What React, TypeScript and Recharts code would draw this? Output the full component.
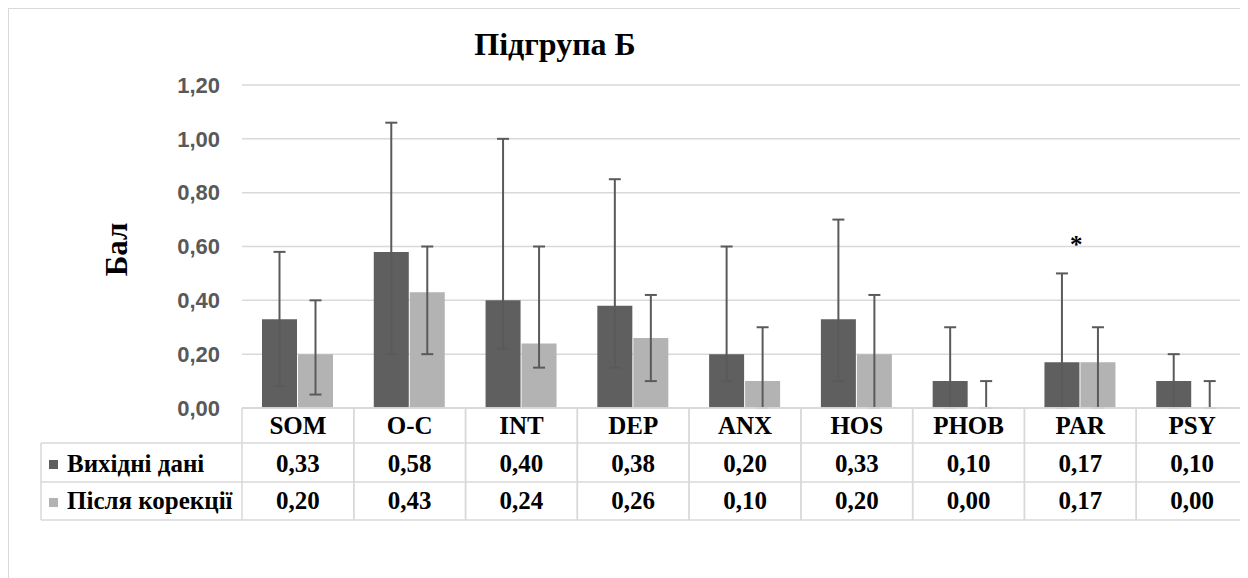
import React from "react";
import {
  BarChart,
  Bar,
  CartesianGrid,
  XAxis,
  YAxis,
  ErrorBar,
  ReferenceDot,
} from "recharts";

// SCL-90 scales, subgroup B
const categories = ["SOM", "O-C", "INT", "DEP", "ANX", "HOS", "PHOB", "PAR", "PSY"];
const seriesNames = ["Вихідні дані", "Після корекції"];

const baseline = [0.33, 0.58, 0.4, 0.38, 0.2, 0.33, 0.1, 0.17, 0.1];
const baselineHigh = [0.58, 1.06, 1.0, 0.85, 0.6, 0.7, 0.3, 0.5, 0.2];
const baselineLow = [0.08, 0.2, 0.22, 0.15, 0.1, 0.1, 0, 0, 0];

const corrected = [0.2, 0.43, 0.24, 0.26, 0.1, 0.2, 0, 0.17, 0];
const correctedHigh = [0.4, 0.6, 0.6, 0.42, 0.3, 0.42, 0.1, 0.3, 0.1];
const correctedLow = [0.05, 0.2, 0.15, 0.1, 0, 0, 0, 0, 0];

const yTicks = [0, 0.2, 0.4, 0.6, 0.8, 1.0, 1.2];

// significance mark
const starCategory = "PAR";
const starY = 0.62;

const DARK = "#5f5f5f";
const LIGHT = "#b3b3b3";
const WHISKER = "#5a5a5a";
const LINE = "#d9d9d9";
const SERIF = '"Liberation Serif", "Times New Roman", serif';
const SANS = '"Liberation Sans", Arial, sans-serif';

const W = 1240;
const H = 570;
const Y_AXIS_W = 234;
const MARGIN = { top: 77, right: 0, bottom: 50, left: 0 };
const BAND = (W - Y_AXIS_W - MARGIN.left - MARGIN.right) / categories.length;

// table rows, relative to the axis line
const ROW_HEAD = 35;
const ROW_1 = 74;
const ROW_2 = 112;
const TABLE_LEFT = 33;

const fmt = (v: number) => v.toFixed(2).replace(".", ",");

const data = categories.map((name, i) => ({
  name,
  base: baseline[i],
  corr: corrected[i],
  baseErr: [baseline[i] - baselineLow[i], baselineHigh[i] - baseline[i]],
  corrErr: [corrected[i] - correctedLow[i], correctedHigh[i] - corrected[i]],
}));

const TableColumn = (props: any) => {
  const { x, y, index } = props;
  const left = x - BAND / 2;
  const right = x + BAND / 2;
  const line = { stroke: LINE, strokeWidth: 1.5 };
  const txt = { fontFamily: SERIF, fontWeight: 700, fontSize: 25, fill: "#000", textAnchor: "middle" as const };
  return (
    <g>
      {index === 0 && (
        <g>
          <line x1={TABLE_LEFT} y1={y + ROW_HEAD} x2={left} y2={y + ROW_HEAD} {...line} />
          <line x1={TABLE_LEFT} y1={y + ROW_1} x2={left} y2={y + ROW_1} {...line} />
          <line x1={TABLE_LEFT} y1={y + ROW_2} x2={left} y2={y + ROW_2} {...line} />
          <line x1={TABLE_LEFT} y1={y + ROW_HEAD} x2={TABLE_LEFT} y2={y + ROW_2} {...line} />
          <rect x={41} y={y + 52} width={9} height={9} fill={DARK} />
          <rect x={41} y={y + 90} width={9} height={9} fill={LIGHT} />
          <text x={59} y={y + 64} {...txt} textAnchor="start">{seriesNames[0]}</text>
          <text x={59} y={y + 101} {...txt} textAnchor="start">{seriesNames[1]}</text>
        </g>
      )}
      <line x1={left} y1={y} x2={right} y2={y} {...line} />
      <line x1={left} y1={y + ROW_HEAD} x2={right} y2={y + ROW_HEAD} {...line} />
      <line x1={left} y1={y + ROW_1} x2={right} y2={y + ROW_1} {...line} />
      <line x1={left} y1={y + ROW_2} x2={right} y2={y + ROW_2} {...line} />
      <line x1={left} y1={y} x2={left} y2={y + ROW_2} {...line} />
      <line x1={right} y1={y} x2={right} y2={y + ROW_2} {...line} />
      <text x={x} y={y + 26} {...txt}>{categories[index]}</text>
      <text x={x} y={y + 64} {...txt}>{fmt(baseline[index])}</text>
      <text x={x} y={y + 101} {...txt}>{fmt(corrected[index])}</text>
    </g>
  );
};

const Star = (props: any) => (
  <text
    x={props.cx - 4}
    y={props.cy + 12}
    textAnchor="middle"
    fontFamily={SERIF}
    fontWeight={700}
    fontSize={25}
    fill="#000"
  >
    *
  </text>
);

export default function App() {
  return (
    <div
      style={{
        position: "relative",
        width: W,
        height: H,
        boxShadow: `inset 1px 1px 0 ${LINE}`,
        background: "#fff",
      }}
    >
      <BarChart width={W} height={H} data={data} margin={MARGIN} barSize={35} barGap={1}>
        <CartesianGrid vertical={false} stroke={LINE} strokeWidth={1.5} />
        <YAxis
          width={Y_AXIS_W}
          domain={[0, 1.2]}
          ticks={yTicks}
          axisLine={false}
          tickLine={false}
          tickSize={0}
          tickMargin={22}
          tickFormatter={fmt}
          tick={{ fontFamily: SANS, fontWeight: 700, fontSize: 22, fill: "#595959" }}
        />
        <Bar dataKey="base" fill={DARK} minPointSize={1} isAnimationActive={false}>
          <ErrorBar dataKey="baseErr" width={6} stroke={WHISKER} strokeWidth={2} isAnimationActive={false} />
        </Bar>
        {/* zero-valued bars still need a rect so their whiskers get drawn */}
        <Bar dataKey="corr" fill={LIGHT} minPointSize={1} isAnimationActive={false}>
          <ErrorBar dataKey="corrErr" width={6} stroke={WHISKER} strokeWidth={2} isAnimationActive={false} />
        </Bar>
        <XAxis
          dataKey="name"
          height={120}
          axisLine={{ stroke: LINE, strokeWidth: 1.5 }}
          tickLine={false}
          tickSize={0}
          tickMargin={0}
          interval={0}
          tick={<TableColumn />}
        />
        <ReferenceDot x={starCategory} y={starY} r={0} shape={<Star />} />
      </BarChart>
      <svg
        width={W}
        height={H}
        style={{ position: "absolute", left: 0, top: 0, pointerEvents: "none" }}
      >
        <text x={547} y={47} textAnchor="middle" fontFamily={SERIF} fontWeight={700} fontSize={32} fill="#000">
          Підгрупа Б
        </text>
        <text
          x={119}
          y={241.5}
          textAnchor="middle"
          fontFamily={SERIF}
          fontWeight={700}
          fontSize={31}
          fill="#000"
          transform="rotate(-90 119 241.5)"
        >
          Бал
        </text>
      </svg>
    </div>
  );
}
